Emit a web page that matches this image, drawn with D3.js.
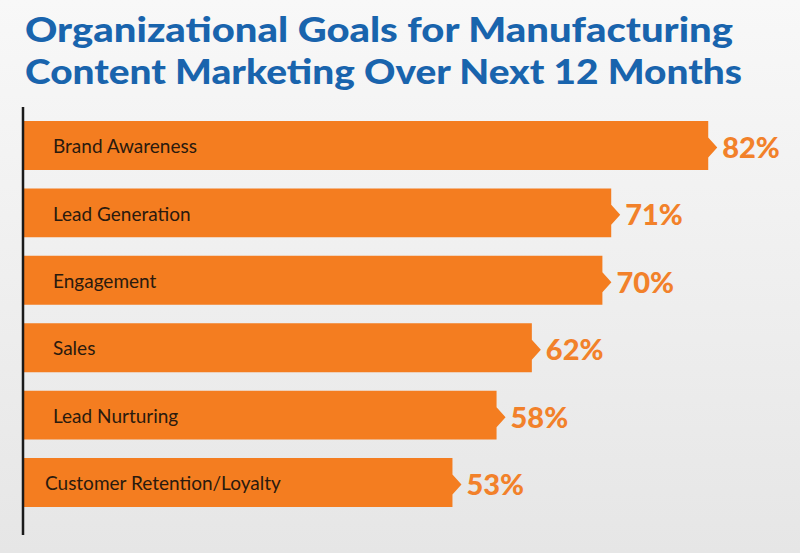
<!DOCTYPE html>
<style>
body { margin: 0; }
svg { display: block; }
</style>
<svg width="800" height="553"></svg>
<script src="https://d3js.org/d3.v7.min.js"></script>
<script>

var categories = ["Brand Awareness", "Lead Generation", "Engagement", "Sales", "Lead Nurturing", "Customer Retention/Loyalty"];
var values = [82, 71, 70, 62, 58, 53];
var titleLines = ["Organizational Goals for Manufacturing", "Content Marketing Over Next 12 Months"];

var svg = d3.select("svg"),
    width = +svg.attr("width"),
    height = +svg.attr("height");

var orange = "#f47d20",
    blue = "#1964ad";

// background gradient
var grad = svg.append("defs").append("linearGradient")
    .attr("id", "bg")
    .attr("x1", 0).attr("y1", 0).attr("x2", 0).attr("y2", 1);
grad.append("stop").attr("offset", "0%").attr("stop-color", "#f8f8f8");
grad.append("stop").attr("offset", "100%").attr("stop-color", "#e6e6e6");

svg.append("rect")
    .attr("width", width)
    .attr("height", height)
    .attr("fill", "url(#bg)");

// title
svg.append("g")
  .selectAll("text")
  .data(titleLines)
  .enter().append("text")
    .attr("x", 25)
    .attr("y", function(d, i) { return 42 + i * 42; })
    .attr("font-family", "Lato, sans-serif")
    .attr("font-weight", 900)
    .attr("font-size", 35)
    .attr("fill", blue)
    .attr("textLength", function(d, i) { return i == 0 ? 708 : 717; })
    .attr("lengthAdjust", "spacingAndGlyphs")
    .text(function(d) { return d; });

var data = categories.map(function(c, i) { return {name: c, value: values[i]}; });

var axisX = 24;

var x = d3.scaleLinear()
    .domain([0, 100])
    .range([-15, 867]);

var y = d3.scaleBand()
    .domain(categories)
    .range([121, 507])
    .paddingInner(0.275)
    .paddingOuter(0);

var bw = y.bandwidth();

// bar with a small pointer on the right end
function barPath(d) {
  var x0 = axisX, x1 = x(d.value),
      y0 = y(d.name), y1 = y0 + bw,
      cy = y0 + bw / 2 + 2;
  return "M" + x0 + "," + y0 +
    "H" + x1 +
    "V" + (cy - 10) +
    "L" + (x1 + 9) + "," + cy +
    "L" + x1 + "," + (cy + 10) +
    "V" + y1 +
    "H" + x0 + "Z";
}

var bars = svg.append("g")
  .selectAll("g")
  .data(data)
  .enter().append("g");

bars.append("path")
    .attr("d", barPath)
    .attr("fill", orange);

bars.append("text")
    .attr("x", function(d, i) { return i == categories.length - 1 ? 45 : 53; })
    .attr("y", function(d) { return y(d.name) + bw / 2 + 1; })
    .attr("dy", "0.35em")
    .attr("font-family", "Lato, sans-serif")
    .attr("font-size", 19)
    .attr("fill", "#2a1a0e")
    .text(function(d) { return d.name; });

bars.append("text")
    .attr("x", function(d) { return x(d.value) + 14; })
    .attr("y", function(d) { return y(d.name) + bw / 2 + 2; })
    .attr("dy", "0.36em")
    .attr("font-family", "Lato, sans-serif")
    .attr("font-weight", 900)
    .attr("font-size", 29)
    .attr("fill", "#f2812a")
    .text(function(d) { return d.value + "%"; });

// vertical axis line
svg.append("line")
    .attr("x1", 23).attr("x2", 23)
    .attr("y1", 107).attr("y2", 535)
    .attr("stroke", "#1a1a1a")
    .attr("stroke-width", 2.5);

</script>
